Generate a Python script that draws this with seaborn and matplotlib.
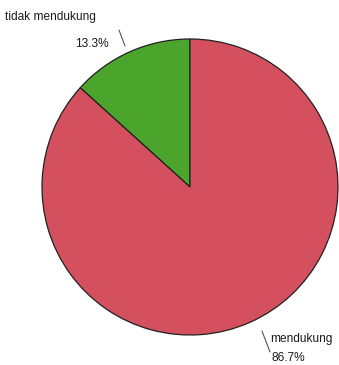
import matplotlib
matplotlib.use("Agg")
import matplotlib.pyplot as plt
import seaborn as sns
import numpy as np

categories = ["tidak mendukung", "mendukung"]
values = [13.3, 86.7]
pct_labels = ["13.3%", "86.7%"]

sns.set_theme(style="white")
plt.rcParams['font.family'] = ['Liberation Sans', 'DejaVu Sans']

colors = ["#4ba42c", "#d5505f"]

W, H = 339, 365
fig = plt.figure(figsize=(W / 100, H / 100), dpi=100)
ax = fig.add_axes([0, 0, 1, 1])

cx, cy, r = 190, H - 187, 148
wedges, _ = ax.pie(values, colors=colors, startangle=90, counterclock=True,
                   center=(cx, cy), radius=r, frame=True,
                   wedgeprops=dict(edgecolor="#202020", linewidth=0.9))
ax.set_xlim(0, W)
ax.set_ylim(0, H)
ax.set_aspect("equal")
ax.axis("off")

# label layout (pixel positions of text blocks)
label_pos = [((5, H - 17), (75, H - 44)), ((270, H - 339), (272, H - 358))]
line_pts = [((125, H - 46), (119, H - 30)), ((262, H - 331), (270, H - 352))]

for i in range(len(categories)):
    (nx, ny), (px, py) = label_pos[i]
    ax.text(nx, ny, categories[i], fontsize=8.6, color="#1a1a1a",
            ha="left", va="center")
    ax.text(px, py, pct_labels[i], fontsize=8.6, color="#1a1a1a",
            ha="left", va="center")
    (x0, y0), (x1, y1) = line_pts[i]
    ax.plot([x0, x1], [y0, y1], color="#555555", linewidth=0.8)

fig.savefig("out.png", dpi=100, facecolor="white")
